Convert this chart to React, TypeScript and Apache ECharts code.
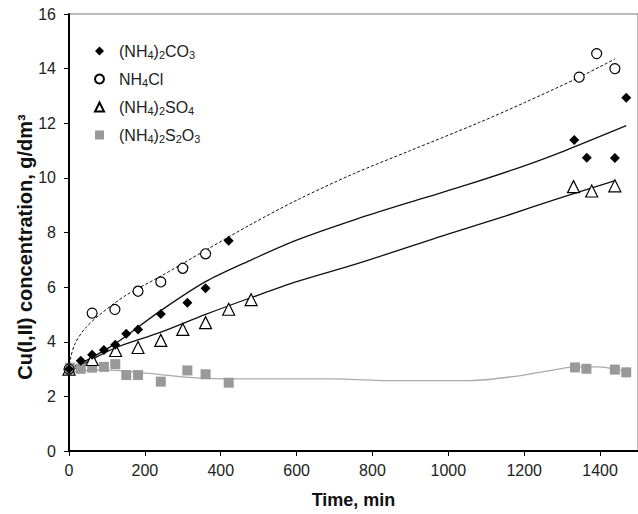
import React, { useEffect, useRef } from "react";
import * as echarts from "echarts";

// Measured points: [time (min), concentration (g/dm3)]
const co3Points: [number, number][] = [
  [0, 3.0], [31, 3.3], [61, 3.52], [92, 3.7], [122, 3.89], [151, 4.29], [182, 4.45],
  [242, 5.02], [312, 5.43], [360, 5.96], [421, 7.7],
  [1332, 11.39], [1365, 10.74], [1439, 10.73], [1469, 12.93],
];
const clPoints: [number, number][] = [
  [0, 3.0], [61, 5.05], [121, 5.18], [182, 5.85], [242, 6.19], [300, 6.69], [360, 7.22],
  [1345, 13.69], [1391, 14.55], [1439, 14.0],
];
const so4Points: [number, number][] = [
  [0, 3.0], [61, 3.35], [123, 3.68], [182, 3.79], [242, 4.05], [300, 4.45], [360, 4.7],
  [421, 5.19], [480, 5.54],
  [1330, 9.68], [1378, 9.52], [1439, 9.71],
];
const s2o3Points: [number, number][] = [
  [3, 3.05], [31, 3.01], [61, 3.05], [92, 3.08], [122, 3.18], [151, 2.78], [182, 2.78],
  [242, 2.54], [312, 2.95], [360, 2.81], [421, 2.5],
  [1334, 3.06], [1364, 3.01], [1439, 2.98], [1469, 2.88],
];

// Fitted curves
const clFit: [number, number][] = [
  [0, 2.98], [5, 3.45], [16, 3.93], [40, 4.45], [80, 4.98], [150, 5.7], [242, 6.4],
  [360, 7.35], [480, 8.3], [603, 9.2], [750, 10.15], [900, 11.0], [1082, 12.03],
  [1200, 12.75], [1343, 13.67], [1440, 14.36],
];
const co3Fit: [number, number][] = [
  [0, 3.0], [60, 3.42], [122, 3.93], [242, 5.14], [360, 6.2], [481, 7.0], [600, 7.72],
  [760, 8.5], [925, 9.22], [1050, 9.75], [1204, 10.46], [1308, 11.0], [1469, 11.91],
];
const so4Fit: [number, number][] = [
  [0, 2.9], [60, 3.35], [123, 3.78], [242, 4.35], [360, 5.0], [481, 5.62], [600, 6.2],
  [760, 6.86], [995, 7.92], [1150, 8.6], [1291, 9.25], [1440, 9.9],
];
const s2o3Fit: [number, number][] = [
  [0, 2.84], [63, 2.97], [124, 2.95], [185, 2.88], [272, 2.75], [360, 2.66], [499, 2.64],
  [699, 2.64], [821, 2.58], [1056, 2.58], [1169, 2.72], [1291, 3.0], [1334, 3.08],
  [1395, 3.08], [1469, 2.9],
];

const seriesNames = ["(NH4)2CO3", "NH4Cl", "(NH4)2SO4", "(NH4)2S2O3"];
const xTicks = { min: 0, max: 1500, interval: 200 };
const yTicks = { min: 0, max: 16, interval: 2 };
const yTitle = "Cu(I,II) concentration, g/dm³";
const xTitle = "Time, min";

const FONT = "'Liberation Sans', Arial, sans-serif";

function richName(name: string): string {
  let out = "{sp|}";
  const parts = name.match(/\d+|[^\d]+/g) || [];
  for (const p of parts) {
    if (/^\d+$/.test(p)) out += `{s|${p}}`;
    else out += `{n|${p}}`;
  }
  return out;
}

export default function App() {
  const ref = useRef<HTMLDivElement>(null);
  useEffect(() => {
    if (!ref.current) return;
    const chart = echarts.init(ref.current, undefined, { renderer: "svg" });
    const scatterBase = { type: "scatter" as const, z: 5 };
    const fitBase = {
      type: "line" as const,
      smooth: 0.3,
      showSymbol: false,
      symbol: "none",
      silent: true,
      z: 3,
    };
    chart.setOption({
      animation: false,
      backgroundColor: "#fff",
      grid: {
        left: 69,
        top: 14,
        height: 441,
        width: 575,
        show: true,
        borderColor: "#777",
        borderWidth: 1,
      },
      graphic: [
        {
          type: "text",
          x: 25,
          y: 247,
          rotation: Math.PI / 2,
          style: {
            text: yTitle,
            font: `bold 20px ${FONT}`,
            fill: "#111",
            align: "center",
            verticalAlign: "middle",
          },
        },
      ],
      legend: {
        orient: "vertical",
        left: 89,
        top: 38,
        itemWidth: 9,
        itemHeight: 9,
        itemGap: 11,
        data: seriesNames,
        formatter: (name: string) => richName(name),
        textStyle: {
          rich: {
            sp: { width: 10 },
            n: { fontSize: 16, fontFamily: FONT, color: "#222", lineHeight: 18 },
            s: {
              fontSize: 11,
              fontFamily: FONT,
              color: "#222",
              lineHeight: 11,
              verticalAlign: "bottom",
            },
          },
        },
      },
      xAxis: {
        type: "value",
        min: xTicks.min,
        max: xTicks.max,
        interval: xTicks.interval,
        name: xTitle,
        nameLocation: "middle",
        nameGap: 40,
        nameTextStyle: { fontFamily: FONT, fontWeight: "bold", fontSize: 18, color: "#111" },
        axisLine: { lineStyle: { color: "#000", width: 2 } },
        axisTick: { inside: false, length: 5, lineStyle: { color: "#000", width: 1 } },
        axisLabel: {
          fontFamily: FONT,
          fontSize: 16,
          color: "#222",
          margin: 11,
          showMaxLabel: false,
          formatter: (v: number) => String(v),
        },
        splitLine: { show: false },
      },
      yAxis: {
        type: "value",
        min: yTicks.min,
        max: yTicks.max,
        interval: yTicks.interval,
        axisLine: { lineStyle: { color: "#000", width: 2 } },
        axisTick: { inside: false, length: 5, lineStyle: { color: "#000", width: 1 } },
        axisLabel: {
          fontFamily: FONT,
          fontSize: 16,
          color: "#222",
          margin: 13,
          formatter: (v: number) => String(v),
        },
        splitLine: { show: false },
      },
      series: [
        {
          ...fitBase,
          name: "fit-co3",
          data: co3Fit,
          lineStyle: { color: "#111", width: 1.3 },
        },
        {
          ...fitBase,
          name: "fit-cl",
          data: clFit,
          lineStyle: { color: "#111", width: 1, type: [3, 2] },
        },
        {
          ...fitBase,
          name: "fit-so4",
          data: so4Fit,
          lineStyle: { color: "#111", width: 1.3 },
        },
        {
          ...fitBase,
          name: "fit-s2o3",
          data: s2o3Fit,
          lineStyle: { color: "#aaa", width: 1.3 },
        },
        {
          ...scatterBase,
          name: seriesNames[3],
          data: s2o3Points,
          symbol: "rect",
          symbolSize: 10,
          itemStyle: { color: "#999", opacity: 1 },
        },
        {
          ...scatterBase,
          name: seriesNames[2],
          data: so4Points,
          symbol: "triangle",
          symbolSize: 12,
          itemStyle: { color: "#fff", borderColor: "#000", borderWidth: 1.2, opacity: 1 },
        },
        {
          ...scatterBase,
          name: seriesNames[1],
          data: clPoints,
          symbol: "circle",
          symbolSize: 10,
          itemStyle: { color: "#fff", borderColor: "#000", borderWidth: 1.2, opacity: 1 },
        },
        {
          ...scatterBase,
          name: seriesNames[0],
          data: co3Points,
          symbol: "diamond",
          symbolSize: 10,
          itemStyle: { color: "#000", opacity: 1 },
        },
      ],
    });
    return () => chart.dispose();
  }, []);
  return <div ref={ref} style={{ width: 638, height: 514, position: "absolute", left: 0, top: 0 }} />;
}
